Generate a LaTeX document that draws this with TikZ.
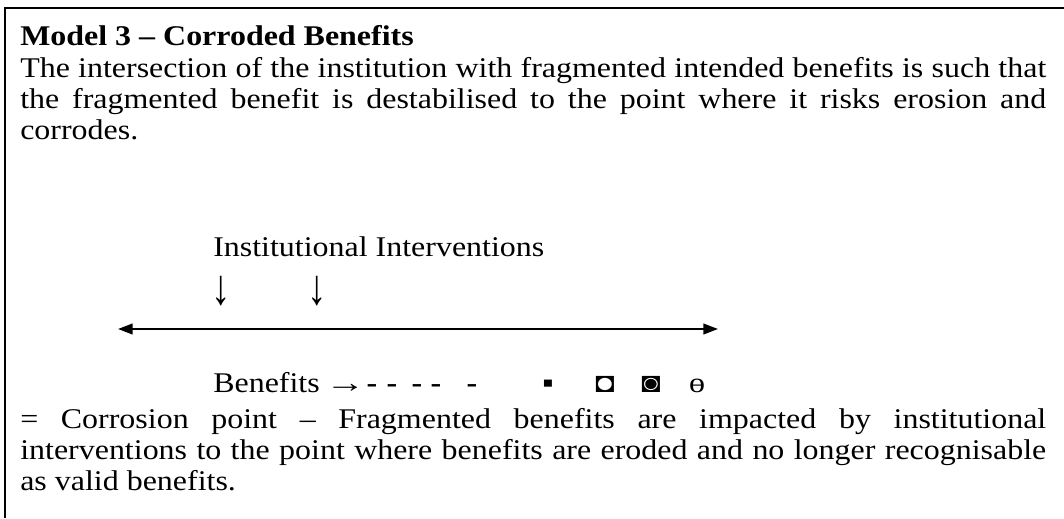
\documentclass[tikz,border=0pt]{standalone}
\usepackage{fontspec}
\setmainfont{Liberation Serif}[FakeStretch=1.12]
\usepackage{tikz}
\usetikzlibrary{arrows.meta}

\begin{document}
\begin{tikzpicture}[
  x=0.75pt, y=-0.75pt,
  >={Triangle[length=11pt,width=8pt]},
  every node/.style={font=\fontsize{21.4}{23.6}\selectfont, inner sep=0pt},
  txt/.style={anchor=base west},
  glyph/.style={anchor=base},
  downarr/.style={anchor=center, font=\fontsize{26}{28}\selectfont},
  hyph/.style={anchor=base, font=\fontsize{21.4}{23.6}\selectfont\bfseries},
  para/.style={anchor=base west, text width=769.5pt, align=justify},
  frame/.style={line width=1.5pt},
]
\useasboundingbox (0,0) rectangle (1064,518);
% Frame (top and left edges)
\draw[frame] (1064,8) -- (5,8) -- (5,518);

% Title
\node[txt] (title) at (20,45) {\bfseries Model 3 – Corroded Benefits};
% Description
\node[para] (intro) at (20,77) {\hyphenpenalty=10000
  The intersection of the institution with fragmented intended benefits is such that\linebreak
  the fragmented benefit is destabilised to the point where it risks erosion and\linebreak
  corrodes.};

% Interventions
\node[txt] (inst) at (213,256) {Institutional Interventions};
\node[downarr] (down1) at (221,291) {\scalebox{1}[1.45]{↓}};
\node[downarr] (down2) at (317,291) {\scalebox{1}[1.45]{↓}};

% Axis
\coordinate (axisL) at (118,329);
\coordinate (axisR) at (718,329);
\draw[<->, line width=1.5pt] (axisL) -- (axisR);

% Benefits
\node[txt] (ben) at (213,392) {Benefits\hspace{0.2em}\scalebox{1.25}[1]{→}};
\foreach \x [count=\i] in {372,392,417,436,472}
  \node[hyph] (h\i) at (\x,392) {-};
\node[glyph] (sq) at (548,392) {▪};
\node[glyph] (bul) at (605,392) {◘};
\node[glyph] (ring) at (651,392) {◙};
\node[glyph] (bar) at (697,392) {ɵ};

% Note
\node[para] (note) at (20,428) {\hyphenpenalty=10000
  = Corrosion point – Fragmented benefits are impacted by institutional\linebreak
  interventions to the point where benefits are eroded and no longer recognisable\linebreak
  as valid benefits.};
\end{tikzpicture}
\end{document}
